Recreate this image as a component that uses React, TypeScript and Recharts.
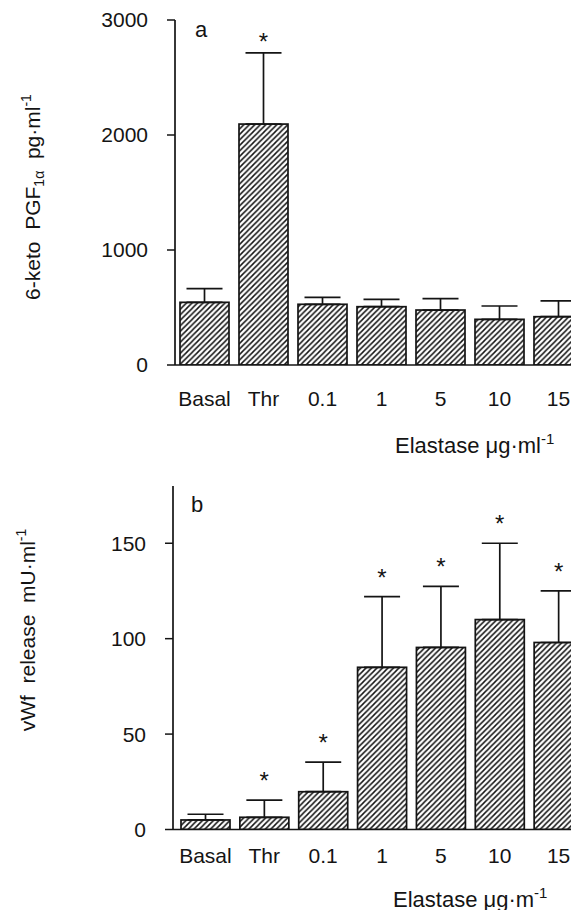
import { ComposedChart, Bar, ErrorBar, Scatter, XAxis, YAxis, Label } from "recharts";

const categories = ["Basal", "Thr", "0.1", "1", "5", "10", "15"];

const pgfMean = [545, 2095, 528, 507, 478, 397, 420];
const pgfErr = [120, 620, 60, 64, 100, 116, 137];
const pgfSig = [false, true, false, false, false, false, false];
const pgfTicks = [0, 1000, 2000, 3000];

const vwfMean = [5, 6.4, 19.8, 85, 95.4, 110, 98];
const vwfErr = [3, 9, 15.5, 37, 32, 40, 27];
const vwfSig = [false, true, true, true, true, true, true];
const vwfTicks = [0, 50, 100, 150];

const FONT = "'Liberation Sans', Arial, Helvetica, sans-serif";
const INK = "#141414";

function buildRows(mean: number[], err: number[], sig: boolean[]) {
    return categories.map((c, i) => ({
        cat: c,
        mean: mean[i],
        err: [0, err[i]],
        tip: mean[i] + err[i],
        sig: sig[i],
    }));
}

function HatchBar(props: any) {
    const { x, y, width, height, index, pid } = props;
    if (width == null || height == null) return null;
    const id = `hatch-${pid}-${index}`;
    return (
        <g>
            <defs>
                <pattern id={id} patternUnits="userSpaceOnUse" width={5.5} height={5.5}>
                    <path d="M-1,1 l2,-2 M0,5.5 l5.5,-5.5 M4.5,6.5 l2,-2" stroke={INK} strokeWidth={1.5} />
                </pattern>
            </defs>
            <rect x={x} y={y} width={width} height={height} fill={`url(#${id})`} stroke={INK} strokeWidth={1.7} />
        </g>
    );
}

function Star(props: any) {
    const { cx, cy, payload, gap } = props;
    if (!payload || !payload.sig) return <g />;
    return (
        <text x={cx} y={cy - gap + 9} textAnchor="middle" fontSize={24} fontFamily={FONT} fill={INK}>
            *
        </text>
    );
}

function Panel(props: {
    id: string;
    top: number;
    height: number;
    marginTop: number;
    marginBottom: number;
    axisWidth: number;
    xAxisHeight: number;
    padLeft: number;
    mean: number[];
    err: number[];
    sig: boolean[];
    domain: [number, number];
    ticks: number[];
    yLabel: (x: number, y: number) => any;
    yLabelPos: [number, number];
    xTitle: any;
    xTitleDy: number;
    tickGap: number;
    starGap: number;
    letter: string;
    letterPos: [number, number];
}) {
    const rows = buildRows(props.mean, props.err, props.sig);
    return (
        <div style={{ position: "absolute", left: 0, top: props.top }}>
            <ComposedChart
                width={620}
                height={props.height}
                data={rows}
                margin={{ top: props.marginTop, right: 32, bottom: props.marginBottom, left: 0 }}
            >
                <XAxis
                    dataKey="cat"
                    height={props.xAxisHeight}
                    tickLine={false}
                    tickSize={0}
                    tickMargin={props.tickGap}
                    padding={{ left: props.padLeft, right: 0 }}
                    axisLine={{ stroke: INK, strokeWidth: 1.7 }}
                    tick={{ fill: INK, fontSize: 21, fontFamily: FONT }}
                    interval={0}
                >
                    <Label
                        content={(p: any) => {
                            const vb = p.viewBox;
                            return (
                                <text x={vb.x + 220} y={vb.y + props.xTitleDy} fontSize={22} fontFamily={FONT} fill={INK}>
                                    {props.xTitle}
                                </text>
                            );
                        }}
                    />
                </XAxis>
                <YAxis
                    width={props.axisWidth}
                    domain={props.domain}
                    ticks={props.ticks}
                    allowDataOverflow
                    tickSize={8}
                    tickMargin={19}
                    tickLine={{ stroke: INK, strokeWidth: 1.5 }}
                    axisLine={{ stroke: INK, strokeWidth: 1.7 }}
                    tick={{ fill: INK, fontSize: 21, fontFamily: FONT }}
                >
                    <Label content={() => props.yLabel(props.yLabelPos[0], props.yLabelPos[1])} />
                </YAxis>
                <Bar dataKey="mean" barSize={49} isAnimationActive={false} shape={(p: any) => <HatchBar {...p} pid={props.id} />}>
                    <ErrorBar dataKey="err" direction="y" width={18} stroke={INK} strokeWidth={1.7} />
                </Bar>
                <Scatter dataKey="tip" isAnimationActive={false} shape={(p: any) => <Star {...p} gap={props.starGap} />} />
            </ComposedChart>
            <div
                style={{
                    position: "absolute",
                    left: props.letterPos[0],
                    top: props.letterPos[1],
                    fontFamily: FONT,
                    fontSize: 22,
                    color: INK,
                }}
            >
                {props.letter}
            </div>
        </div>
    );
}

const labelA = (x: number, y: number) => (
    <text
        x={x}
        y={y}
        transform={`rotate(-90, ${x}, ${y})`}
        textAnchor="middle"
        fontSize={21}
        fontFamily={FONT}
        fill={INK}
    >
        6-keto{"\u00a0\u00a0"}PGF
        <tspan dy={4} fontSize={14}>1α</tspan>
        <tspan dy={-4}>{"\u00a0\u00a0"}pg·ml</tspan>
        <tspan dy={-9} fontSize={14}>-1</tspan>
    </text>
);

const labelB = (x: number, y: number) => (
    <text
        x={x}
        y={y}
        transform={`rotate(-90, ${x}, ${y})`}
        textAnchor="middle"
        fontSize={21}
        fontFamily={FONT}
        fill={INK}
    >
        vWf{"\u00a0\u00a0"}release{"\u00a0\u00a0"}mU·ml
        <tspan dy={-9} fontSize={14}>-1</tspan>
    </text>
);

export default function App() {
    return (
        <div
            style={{
                position: "relative",
                width: 579,
                height: 910,
                marginLeft: -8,
                marginTop: -8,
                overflow: "hidden",
                background: "#fff",
            }}
        >
            <Panel
                id="a"
                top={0}
                height={460}
                marginTop={20}
                marginBottom={15}
                axisWidth={175}
                xAxisHeight={80}
                padLeft={0}
                mean={pgfMean}
                err={pgfErr}
                sig={pgfSig}
                domain={[0, 3000]}
                ticks={pgfTicks}
                yLabel={labelA}
                yLabelPos={[40, 197]}
                xTitle={
                    <>
                        Elastase μg·ml<tspan dy={-9} fontSize={15}>-1</tspan>
                    </>
                }
                xTitleDy={88}
                tickGap={26}
                starGap={12}
                letter="a"
                letterPos={[195, 17]}
            />
            <Panel
                id="b"
                top={440}
                height={470}
                marginTop={46}
                marginBottom={0}
                axisWidth={173}
                xAxisHeight={80.5}
                padLeft={3}
                mean={vwfMean}
                err={vwfErr}
                sig={vwfSig}
                domain={[0, 180]}
                ticks={vwfTicks}
                yLabel={labelB}
                yLabelPos={[35, 190]}
                xTitle={
                    <>
                        Elastase μg·m<tspan dy={-9} fontSize={15}>-1</tspan>
                    </>
                }
                xTitleDy={77}
                tickGap={19}
                starGap={20}
                letter="b"
                letterPos={[191, 52]}
            />
        </div>
    );
}
